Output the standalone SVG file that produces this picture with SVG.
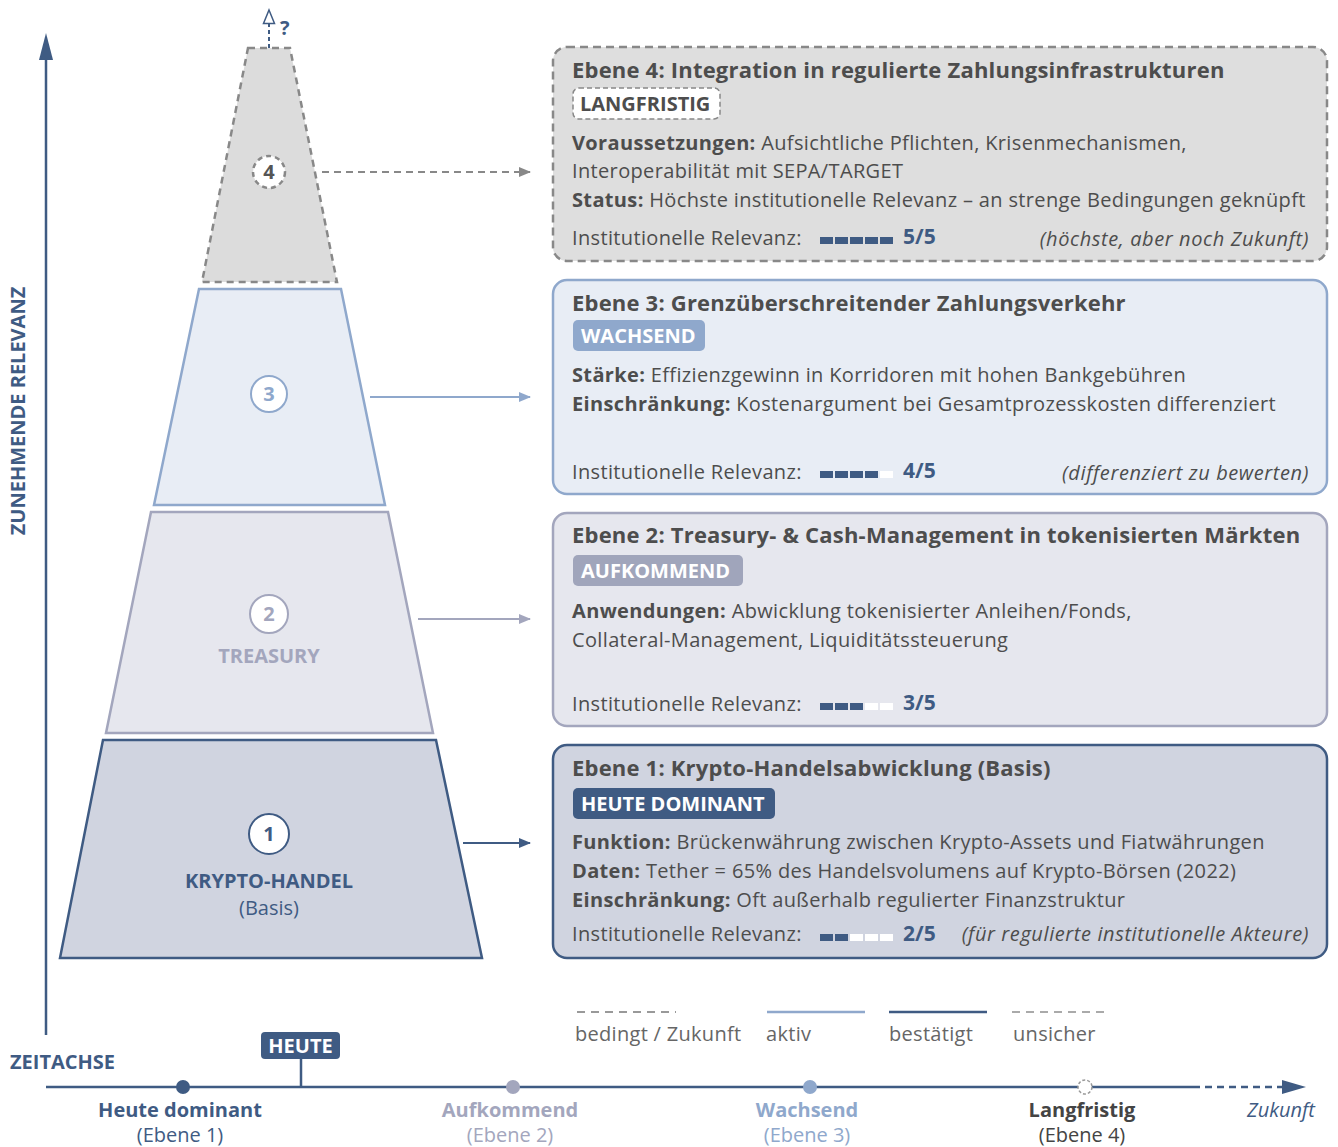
<svg xmlns="http://www.w3.org/2000/svg" width="1338" height="1147" viewBox="0 0 1338 1147">
<style>
text{font-family:"Open Sans","Noto Sans","Liberation Sans",sans-serif;}
.t{font-size:22px;font-weight:bold;fill:#4d4d4d;letter-spacing:0.2px;}
.b{font-size:20px;fill:#4d4d4d;letter-spacing:0.35px;}
.b tspan.k{font-weight:bold;}
.i{font-size:20px;font-style:italic;fill:#4d4d4d;letter-spacing:0.6px;}
.sc{font-size:21px;font-weight:bold;fill:#3f5b83;}
.badge{font-size:20px;font-weight:bold;fill:#fff;}
.num{font-size:20px;font-weight:bold;text-anchor:middle;}
.on{fill:#3f5b83;}
.off{fill:#ffffff;}
.lg{font-size:20px;fill:#666;letter-spacing:0.3px;}
.tl{font-size:20px;text-anchor:middle;}
</style>
<defs>
<marker id="aDark" markerWidth="12" markerHeight="10" refX="11" refY="5" orient="auto" markerUnits="userSpaceOnUse"><path d="M0,0 L12,5 L0,10 z" fill="#3f5b83"/></marker>
<marker id="aLight" markerWidth="12" markerHeight="10" refX="11" refY="5" orient="auto" markerUnits="userSpaceOnUse"><path d="M0,0 L12,5 L0,10 z" fill="#8fa8cc"/></marker>
<marker id="aGray" markerWidth="12" markerHeight="10" refX="11" refY="5" orient="auto" markerUnits="userSpaceOnUse"><path d="M0,0 L12,5 L0,10 z" fill="#a3a6bd"/></marker>
<marker id="aDash" markerWidth="12" markerHeight="10" refX="11" refY="5" orient="auto" markerUnits="userSpaceOnUse"><path d="M0,0 L12,5 L0,10 z" fill="#888"/></marker>
</defs>

<!-- vertical axis -->
<g id="axis-y">
<line x1="46" y1="1035" x2="46" y2="56" stroke="#3f5b83" stroke-width="2.5"/>
<path d="M46,33 L53,60 L39,60 z" fill="#3f5b83"/>
<text transform="translate(25,411) rotate(-90)" text-anchor="middle" style="font-size:20px;font-weight:bold;fill:#3f5b83">ZUNEHMENDE RELEVANZ</text>
</g>

<!-- pyramid -->
<g id="level4">
<polygon points="248,48 290,48 337,282 202,282" fill="#dcdcdc" stroke="#888" stroke-width="2.5" stroke-dasharray="7,5"/>
<circle cx="269" cy="172" r="16" fill="#fff" stroke="#888" stroke-width="2.5" stroke-dasharray="5,4"/>
<text x="269" y="179" class="num" fill="#555">4</text>
<line x1="269" y1="48" x2="269" y2="24" stroke="#3f5b83" stroke-width="2" stroke-dasharray="4,3"/>
<path d="M269,10 L274.5,23.5 L263.5,23.5 z" fill="#fff" stroke="#3f5b83" stroke-width="1.5"/>
<text x="280" y="35" style="font-size:20px;font-weight:bold;fill:#3f5b83">?</text>
</g>
<g id="level3">
<polygon points="199,289 341,289 385,505 154,505" fill="#e8edf5" stroke="#8fa8cc" stroke-width="2.5"/>
<circle cx="269" cy="394" r="18" fill="#fff" stroke="#8fa8cc" stroke-width="2"/>
<text x="269" y="401" class="num" fill="#8fa8cc">3</text>
</g>
<g id="level2">
<polygon points="151,512 388,512 433,733 106,733" fill="#e6e7ee" stroke="#a3a6bd" stroke-width="2.5"/>
<circle cx="269" cy="614" r="19" fill="#fff" stroke="#a3a6bd" stroke-width="2"/>
<text x="269" y="621" class="num" fill="#a3a6bd">2</text>
<text x="269" y="663" class="num" fill="#a3a6bd">TREASURY</text>
</g>
<g id="level1">
<polygon points="103,740 436,740 482,958 60,958" fill="#d0d4e0" stroke="#3f5b83" stroke-width="2.5"/>
<circle cx="269" cy="834" r="20" fill="#fff" stroke="#3f5b83" stroke-width="2"/>
<text x="269" y="841" class="num" fill="#3f5b83">1</text>
<text x="269" y="888" class="num" fill="#3f5b83">KRYPTO-HANDEL</text>
<text x="269" y="915" class="tl" fill="#3f5b83">(Basis)</text>
</g>

<!-- connectors -->
<g id="connectors">
<line x1="322" y1="172" x2="530" y2="172" stroke="#888" stroke-width="2" stroke-dasharray="7,5" marker-end="url(#aDash)"/>
<line x1="370" y1="397" x2="530" y2="397" stroke="#8fa8cc" stroke-width="2" marker-end="url(#aLight)"/>
<line x1="418" y1="619" x2="530" y2="619" stroke="#a3a6bd" stroke-width="2" marker-end="url(#aGray)"/>
<line x1="463" y1="843" x2="530" y2="843" stroke="#3f5b83" stroke-width="2" marker-end="url(#aDark)"/>
</g>

<!-- box 4 -->
<g id="box4">
<rect x="553" y="47" width="774" height="214" rx="14" fill="#dedede" stroke="#888" stroke-width="2.5" stroke-dasharray="8,5"/>
<text x="572" y="78" class="t">Ebene 4: Integration in regulierte Zahlungsinfrastrukturen</text>
<rect x="573" y="88" width="147" height="31" rx="6" fill="#fff" stroke="#888" stroke-width="1.5" stroke-dasharray="5,3"/>
<text x="580" y="111" style="font-size:20px;font-weight:bold;fill:#4d4d4d">LANGFRISTIG</text>
<text x="572" y="150" class="b"><tspan class="k">Voraussetzungen:</tspan> Aufsichtliche Pflichten, Krisenmechanismen,</text>
<text x="572" y="178" class="b">Interoperabilität mit SEPA/TARGET</text>
<text x="572" y="207" class="b"><tspan class="k">Status:</tspan> Höchste institutionelle Relevanz – an strenge Bedingungen geknüpft</text>
<text x="572" y="245" class="b">Institutionelle Relevanz:</text>
<rect x="820" y="237" width="13" height="7" class="on"/><rect x="835" y="237" width="13" height="7" class="on"/><rect x="850" y="237" width="13" height="7" class="on"/><rect x="865" y="237" width="13" height="7" class="on"/><rect x="880" y="237" width="13" height="7" class="on"/>
<text x="903" y="244" class="sc">5/5</text>
<text x="1309" y="246" class="i" text-anchor="end">(höchste, aber noch Zukunft)</text>
</g>

<!-- box 3 -->
<g id="box3">
<rect x="553" y="280" width="774" height="214" rx="14" fill="#e8edf5" stroke="#8fa8cc" stroke-width="2.5"/>
<text x="572" y="311" class="t">Ebene 3: Grenzüberschreitender Zahlungsverkehr</text>
<rect x="573" y="320" width="132" height="31" rx="5" fill="#8fa8cc"/>
<text x="581" y="343" class="badge">WACHSEND</text>
<text x="572" y="382" class="b"><tspan class="k">Stärke:</tspan> Effizienzgewinn in Korridoren mit hohen Bankgebühren</text>
<text x="572" y="411" class="b"><tspan class="k">Einschränkung:</tspan>  Kostenargument bei Gesamtprozesskosten differenziert</text>
<text x="572" y="479" class="b">Institutionelle Relevanz:</text>
<rect x="820" y="471" width="13" height="7" class="on"/><rect x="835" y="471" width="13" height="7" class="on"/><rect x="850" y="471" width="13" height="7" class="on"/><rect x="865" y="471" width="13" height="7" class="on"/><rect x="880" y="471" width="13" height="7" class="off"/>
<text x="903" y="478" class="sc">4/5</text>
<text x="1309" y="480" class="i" text-anchor="end">(differenziert zu bewerten)</text>
</g>

<!-- box 2 -->
<g id="box2">
<rect x="553" y="513" width="774" height="213" rx="14" fill="#e6e7ee" stroke="#a3a6bd" stroke-width="2.5"/>
<text x="572" y="543" class="t">Ebene 2: Treasury- &amp; Cash-Management in tokenisierten Märkten</text>
<rect x="573" y="555" width="170" height="31" rx="5" fill="#a0a5bb"/>
<text x="581" y="578" class="badge">AUFKOMMEND</text>
<text x="572" y="618" class="b"><tspan class="k">Anwendungen:</tspan> Abwicklung tokenisierter Anleihen/Fonds,</text>
<text x="572" y="647" class="b">Collateral-Management, Liquiditätssteuerung</text>
<text x="572" y="711" class="b">Institutionelle Relevanz:</text>
<rect x="820" y="703" width="13" height="7" class="on"/><rect x="835" y="703" width="13" height="7" class="on"/><rect x="850" y="703" width="13" height="7" class="on"/><rect x="865" y="703" width="13" height="7" class="off"/><rect x="880" y="703" width="13" height="7" class="off"/>
<text x="903" y="710" class="sc">3/5</text>
</g>

<!-- box 1 -->
<g id="box1">
<rect x="553" y="745" width="774" height="213" rx="14" fill="#d0d4e0" stroke="#3f5b83" stroke-width="2.5"/>
<text x="572" y="776" class="t">Ebene 1: Krypto-Handelsabwicklung (Basis)</text>
<rect x="573" y="788" width="202" height="31" rx="5" fill="#3f5b83"/>
<text x="581" y="811" class="badge">HEUTE DOMINANT</text>
<text x="572" y="849" class="b"><tspan class="k">Funktion:</tspan> Brückenwährung zwischen Krypto-Assets und Fiatwährungen</text>
<text x="572" y="878" class="b"><tspan class="k">Daten:</tspan> Tether = 65% des Handelsvolumens auf Krypto-Börsen (2022)</text>
<text x="572" y="907" class="b"><tspan class="k">Einschränkung:</tspan> Oft außerhalb regulierter Finanzstruktur</text>
<text x="572" y="941" class="b">Institutionelle Relevanz:</text>
<rect x="820" y="934" width="13" height="7" class="on"/><rect x="835" y="934" width="13" height="7" class="on"/><rect x="850" y="934" width="13" height="7" class="off"/><rect x="865" y="934" width="13" height="7" class="off"/><rect x="880" y="934" width="13" height="7" class="off"/>
<text x="903" y="941" class="sc">2/5</text>
<text x="1309" y="941" class="i" text-anchor="end">(für regulierte institutionelle Akteure)</text>
</g>

<!-- legend -->
<g id="legend">
<line x1="577" y1="1012" x2="676" y2="1012" stroke="#999" stroke-width="2" stroke-dasharray="8,6"/>
<line x1="767" y1="1012" x2="865" y2="1012" stroke="#8fa8cc" stroke-width="2.5"/>
<line x1="889" y1="1012" x2="987" y2="1012" stroke="#3f5b83" stroke-width="2.5"/>
<line x1="1012" y1="1012" x2="1110" y2="1012" stroke="#aaa" stroke-width="2" stroke-dasharray="8,6"/>
<text x="575" y="1041" class="lg">bedingt / Zukunft</text>
<text x="766" y="1041" class="lg">aktiv</text>
<text x="889" y="1041" class="lg">bestätigt</text>
<text x="1013" y="1041" class="lg">unsicher</text>
</g>

<!-- timeline -->
<g id="timeline">
<text x="10" y="1069" style="font-size:20px;font-weight:bold;fill:#3f5b83">ZEITACHSE</text>
<line x1="46" y1="1087" x2="1200" y2="1087" stroke="#3f5b83" stroke-width="2.5"/>
<line x1="1205" y1="1087" x2="1283" y2="1087" stroke="#3f5b83" stroke-width="2.5" stroke-dasharray="7,5"/>
<path d="M1306,1087 L1282,1080 L1282,1094 z" fill="#3f5b83"/>
<line x1="301" y1="1058" x2="301" y2="1087" stroke="#3f5b83" stroke-width="2.5"/>
<rect x="261" y="1032" width="79" height="27" rx="4" fill="#3f5b83"/>
<text x="300.5" y="1053" class="badge" text-anchor="middle">HEUTE</text>
<circle cx="183" cy="1087" r="7" fill="#3f5b83"/>
<circle cx="513" cy="1087" r="7" fill="#a3a6bd"/>
<circle cx="810" cy="1087" r="7" fill="#8fa8cc"/>
<circle cx="1085" cy="1087" r="7" fill="#fff" stroke="#999" stroke-width="1.5" stroke-dasharray="3,2"/>
<text x="180" y="1117" class="tl" font-weight="bold" fill="#3f5b83">Heute dominant</text>
<text x="180" y="1142" class="tl" fill="#3f5b83">(Ebene 1)</text>
<text x="510" y="1117" class="tl" font-weight="bold" fill="#a3a6bd">Aufkommend</text>
<text x="510" y="1142" class="tl" fill="#a3a6bd">(Ebene 2)</text>
<text x="807" y="1117" class="tl" font-weight="bold" fill="#8fa8cc">Wachsend</text>
<text x="807" y="1142" class="tl" fill="#8fa8cc">(Ebene 3)</text>
<text x="1082" y="1117" class="tl" font-weight="bold" fill="#444">Langfristig</text>
<text x="1082" y="1142" class="tl" fill="#444">(Ebene 4)</text>
<text x="1281" y="1117" class="tl" font-style="italic" fill="#3f5b83">Zukunft</text>
</g>
</svg>
